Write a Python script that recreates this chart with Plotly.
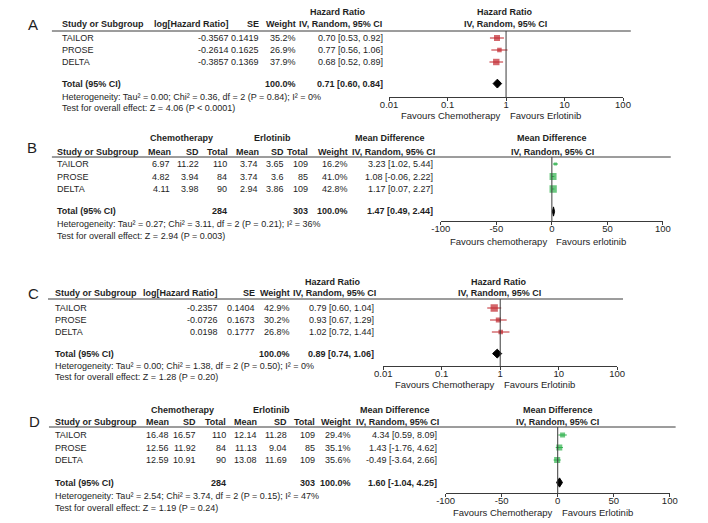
import math
import plotly.graph_objects as go

# ---------------- data ----------------
studies = ["TAILOR", "PROSE", "DELTA"]

# Panel A: hazard ratio (log scale)
a_loghr = [-0.3567, -0.2614, -0.3857]
a_se = [0.1419, 0.1625, 0.1369]
a_weight = [35.2, 26.9, 37.9]
a_est = [0.70, 0.77, 0.68]
a_lo = [0.53, 0.56, 0.52]
a_hi = [0.92, 1.06, 0.89]
a_total = [0.71, 0.60, 0.84]
a_het = "Heterogeneity: Tau² = 0.00; Chi² = 0.36, df = 2 (P = 0.84); I² = 0%"
a_test = "Test for overall effect: Z = 4.06 (P < 0.0001)"

# Panel B: mean difference
b_chemo_mean = [6.97, 4.82, 4.11]
b_chemo_sd = [11.22, 3.94, 3.98]
b_chemo_n = [110, 84, 90]
b_erl_mean = [3.74, 3.74, 2.94]
b_erl_sd = [3.65, 3.6, 3.86]
b_erl_n = [109, 85, 109]
b_weight = [16.2, 41.0, 42.8]
b_est = [3.23, 1.08, 1.17]
b_lo = [1.02, -0.06, 0.07]
b_hi = [5.44, 2.22, 2.27]
b_total = [1.47, 0.49, 2.44]
b_total_n = [284, 303]
b_het = "Heterogeneity: Tau² = 0.27; Chi² = 3.11, df = 2 (P = 0.21); I² = 36%"
b_test = "Test for overall effect: Z = 2.94 (P = 0.003)"

# Panel C: hazard ratio (log scale)
c_loghr = [-0.2357, -0.0726, 0.0198]
c_se = [0.1404, 0.1673, 0.1777]
c_weight = [42.9, 30.2, 26.8]
c_est = [0.79, 0.93, 1.02]
c_lo = [0.60, 0.67, 0.72]
c_hi = [1.04, 1.29, 1.44]
c_total = [0.89, 0.74, 1.06]
c_het = "Heterogeneity: Tau² = 0.00; Chi² = 1.38, df = 2 (P = 0.50); I² = 0%"
c_test = "Test for overall effect: Z = 1.28 (P = 0.20)"

# Panel D: mean difference
d_chemo_mean = [16.48, 12.56, 12.59]
d_chemo_sd = [16.57, 11.92, 10.91]
d_chemo_n = [110, 84, 90]
d_erl_mean = [12.14, 11.13, 13.08]
d_erl_sd = [11.28, 9.04, 11.69]
d_erl_n = [109, 85, 109]
d_weight = [29.4, 35.1, 35.6]
d_est = [4.34, 1.43, -0.49]
d_lo = [0.59, -1.76, -3.64]
d_hi = [8.09, 4.62, 2.66]
d_total = [1.60, -1.04, 4.25]
d_total_n = [284, 303]
d_het = "Heterogeneity: Tau² = 2.54; Chi² = 3.74, df = 2 (P = 0.15); I² = 47%"
d_test = "Test for overall effect: Z = 1.19 (P = 0.24)"

hr_ticks = [0.01, 0.1, 1, 10, 100]
hr_ticktext = ["0.01", "0.1", "1", "10", "100"]
md_ticks = [-100, -50, 0, 50, 100]
md_ticktext = ["-100", "-50", "0", "50", "100"]
hr_null = 1
md_null = 0

# ---------------- style / layout ----------------
W, H = 708, 523
FONT = "Liberation Sans, Arial, sans-serif"
TXT = "#1e1e1e"
RED = "#C0272D"
GREEN = "#2DB04B"
LINE = "#3a3a3a"
FS = 9
TOTAL_IDX = 3.8
DIAMOND_H = 0.37

fig = go.Figure()
ann = []
shapes = []


def px(x):
    return x / W


def py(y):
    return 1 - y / H


def text(x, y, s, anchor="left", bold=False, size=FS):
    ann.append(dict(x=px(x), y=py(y), xref="paper", yref="paper",
                    text=f"<b>{s}</b>" if bold else s, showarrow=False,
                    xanchor=anchor, yanchor="middle", borderpad=0, borderwidth=0,
                    font=dict(family=FONT, size=size, color=TXT)))


def hline(x0, x1, y):
    shapes.append(dict(type="line", xref="paper", yref="paper",
                       x0=px(x0), x1=px(x1), y0=py(y), y1=py(y),
                       line=dict(color=LINE, width=1)))


def fmt_ci(e, l, h):
    return f"{e:.2f} [{l:.2f}, {h:.2f}]"


def forest(n, est, lo, hi, weight, total, color, null, log, ticks, ticktext,
           axis_x0, axis_x1, axis_y, line_y, row0, pitch, fav_l, fav_r, fav_y):
    xa = "x" if n == 1 else f"x{n}"
    ya = "y" if n == 1 else f"y{n}"
    idx = list(range(len(est)))
    # CI lines
    xs, ys = [], []
    for i in idx:
        xs += [lo[i], hi[i], None]
        ys += [i, i, None]
    fig.add_trace(go.Scatter(x=xs, y=ys, mode="lines", xaxis=xa, yaxis=ya,
                             line=dict(color=color, width=1), hoverinfo="skip"))
    # squares
    fig.add_trace(go.Scatter(x=est, y=idx, mode="markers", xaxis=xa, yaxis=ya,
                             marker=dict(symbol="square", color=color,
                                         size=[max(3.2, 0.17 * w) for w in weight],
                                         line=dict(width=0))))
    # diamond
    t = TOTAL_IDX
    fig.add_trace(go.Scatter(x=[total[1], total[0], total[2], total[0], total[1]],
                             y=[t, t - DIAMOND_H, t, t + DIAMOND_H, t],
                             mode="lines", fill="toself", fillcolor="black",
                             line=dict(color="black", width=1), xaxis=xa, yaxis=ya))
    rng = [-2, 2] if log else [-100, 100]
    xkey = "xaxis" if n == 1 else f"xaxis{n}"
    ykey = "yaxis" if n == 1 else f"yaxis{n}"
    common = dict(type="log" if log else "linear", range=rng, tickvals=ticks,
                  showgrid=False, zeroline=False, tickwidth=1, tickcolor=LINE,
                  ticklen=3, fixedrange=True)
    fig.layout[xkey] = dict(domain=[px(axis_x0), px(axis_x1)], anchor=ya,
                            ticktext=ticktext, showline=True,
                            linecolor=LINE, linewidth=1, ticks="outside",
                            ticklabelstandoff=-4,
                            tickfont=dict(family=FONT, size=9.5, color=TXT), **common)
    # overlay axis: inside half of the crossing tick marks
    fig.layout[f"xaxis{n + 4}"] = dict(overlaying=xa, anchor=ya, ticks="inside",
                                       showticklabels=False, showline=False, **common)
    fig.layout[ykey] = dict(domain=[py(axis_y), py(line_y)], anchor=xa,
                            range=[(axis_y - row0) / pitch, (line_y - row0) / pitch],
                            visible=False, showgrid=False, zeroline=False, fixedrange=True)
    shapes.append(dict(type="line", xref=xa, yref=f"{ya} domain", x0=null, x1=null,
                       y0=0, y1=1, line=dict(color=LINE, width=1)))
    # annotation x on a log axis is given in log10 units
    ax = math.log10(null) if log else null
    ann.append(dict(x=ax, y=py(fav_y), xref=xa, yref="paper", text=fav_l,
                    showarrow=False, xanchor="right", yanchor="middle", xshift=-5,
                    borderpad=0, borderwidth=0,
                    font=dict(family=FONT, size=9.5, color=TXT)))
    ann.append(dict(x=ax, y=py(fav_y), xref=xa, yref="paper", text=fav_r,
                    showarrow=False, xanchor="left", yanchor="middle", xshift=4,
                    borderpad=0, borderwidth=0,
                    font=dict(family=FONT, size=9.5, color=TXT)))


# ---------------- Panel A ----------------
row0, pitch = 38, 12
tot_y = row0 + TOTAL_IDX * pitch
text(24, 24, "A", "center", size=15)
text(337, 12, "Hazard Ratio", "center", True)
text(508, 12, "Hazard Ratio", "center", True)
text(53, 24, "Study or Subgroup", "left", True)
text(225, 24, "log[Hazard Ratio]", "right", True)
text(255, 24, "SE", "right", True)
text(293, 24, "Weight", "right", True)
text(339, 24, "IV, Random, 95% CI", "center", True)
text(508, 24, "IV, Random, 95% CI", "center", True)
hline(43, 637, 31)
for i, s in enumerate(studies):
    y = row0 + i * pitch
    text(53, y, s)
    text(225, y, f"{a_loghr[i]:.4f}", "right")
    text(256, y, f"{a_se[i]:.4f}", "right")
    text(293, y, f"{a_weight[i]:.1f}%", "right")
    text(383, y, fmt_ci(a_est[i], a_lo[i], a_hi[i]), "right")
text(53, tot_y, "Total (95% CI)", "left", True)
text(293, tot_y, "100.0%", "right", True)
text(383, tot_y, fmt_ci(*a_total), "right", True)
text(53, tot_y + 13, a_het)
text(53, tot_y + 24, a_test)
forest(1, a_est, a_lo, a_hi, a_weight, a_total, RED, hr_null, True, hr_ticks, hr_ticktext,
       389, 629, 97, 31, row0, pitch, "Favours Chemotherapy", "Favours Erlotinib", 115)

# ---------------- Panel B ----------------
row0, pitch = 164, 12.5
tot_y = row0 + TOTAL_IDX * pitch
text(23, 148, "B", "center", size=15)
text(176, 138, "Chemotherapy", "center", True)
text(269, 138, "Erlotinib", "center", True)
text(390, 138, "Mean Difference", "center", True)
text(556, 138, "Mean Difference", "center", True)
text(48, 152, "Study or Subgroup", "left", True)
for xr, h in [(165, "Mean"), (194, "SD"), (224, "Total"), (255, "Mean"), (281, "SD"),
              (306, "Total"), (347, "Weight")]:
    text(xr, 152, h, "right", True)
text(394, 152, "IV, Random, 95% CI", "center", True)
text(557, 152, "IV, Random, 95% CI", "center", True)
hline(43, 678, 157)
for i, s in enumerate(studies):
    y = row0 + i * pitch
    text(48, y, s)
    text(164, y, f"{b_chemo_mean[i]:g}", "right")
    text(194, y, f"{b_chemo_sd[i]:g}", "right")
    text(223, y, f"{b_chemo_n[i]}", "right")
    text(254, y, f"{b_erl_mean[i]:g}", "right")
    text(281, y, f"{b_erl_sd[i]:g}", "right")
    text(306, y, f"{b_erl_n[i]}", "right")
    text(347, y, f"{b_weight[i]:.1f}%", "right")
    text(434, y, fmt_ci(b_est[i], b_lo[i], b_hi[i]), "right")
text(48, tot_y, "Total (95% CI)", "left", True)
text(223, tot_y, f"{b_total_n[0]}", "right", True)
text(306, tot_y, f"{b_total_n[1]}", "right", True)
text(347, tot_y, "100.0%", "right", True)
text(434, tot_y, fmt_ci(*b_total), "right", True)
text(48, tot_y + 13, b_het)
text(48, tot_y + 24.5, b_test)
forest(2, b_est, b_lo, b_hi, b_weight, b_total, GREEN, md_null, False, md_ticks, md_ticktext,
       442, 670, 221, 157, row0, pitch, "Favours chemotherapy", "Favours erlotinib", 241)

# ---------------- Panel C ----------------
row0, pitch = 308, 12
tot_y = row0 + TOTAL_IDX * pitch
text(24, 293, "C", "center", size=15)
text(331, 282, "Hazard Ratio", "center", True)
text(502, 282, "Hazard Ratio", "center", True)
text(46, 293, "Study or Subgroup", "left", True)
text(213, 293, "log[Hazard Ratio]", "right", True)
text(251, 293, "SE", "right", True)
text(287, 293, "Weight", "right", True)
text(333, 293, "IV, Random, 95% CI", "center", True)
text(502, 293, "IV, Random, 95% CI", "center", True)
hline(39, 629, 299)
for i, s in enumerate(studies):
    y = row0 + i * pitch
    text(46, y, s)
    text(213, y, f"{c_loghr[i]:.4f}", "right")
    text(251, y, f"{c_se[i]:.4f}", "right")
    text(287, y, f"{c_weight[i]:.1f}%", "right")
    text(374, y, fmt_ci(c_est[i], c_lo[i], c_hi[i]), "right")
text(46, tot_y, "Total (95% CI)", "left", True)
text(287, tot_y, "100.0%", "right", True)
text(374, tot_y, fmt_ci(*c_total), "right", True)
text(46, tot_y + 12.5, c_het)
text(46, tot_y + 23.5, c_test)
forest(3, c_est, c_lo, c_hi, c_weight, c_total, RED, hr_null, True, hr_ticks, hr_ticktext,
       383, 623, 366, 299, row0, pitch, "Favours Chemotherapy", "Favours Erlotinib", 384)

# ---------------- Panel D ----------------
row0, pitch = 435, 12.5
tot_y = row0 + TOTAL_IDX * pitch
text(25, 421, "D", "center", size=15)
text(177, 410, "Chemotherapy", "center", True)
text(268, 410, "Erlotinib", "center", True)
text(395, 410, "Mean Difference", "center", True)
text(562, 410, "Mean Difference", "center", True)
text(46, 422, "Study or Subgroup", "left", True)
for xr, h in [(163, "Mean"), (191, "SD"), (222, "Total"), (253, "Mean"), (284, "SD"),
              (313, "Total"), (350, "Weight")]:
    text(xr, 422, h, "right", True)
text(398, 422, "IV, Random, 95% CI", "center", True)
text(562, 422, "IV, Random, 95% CI", "center", True)
hline(40, 683, 427)
for i, s in enumerate(studies):
    y = row0 + i * pitch
    text(46, y, s)
    text(163, y, f"{d_chemo_mean[i]:g}", "right")
    text(191, y, f"{d_chemo_sd[i]:g}", "right")
    text(222, y, f"{d_chemo_n[i]}", "right")
    text(253, y, f"{d_erl_mean[i]:g}", "right")
    text(284, y, f"{d_erl_sd[i]:g}", "right")
    text(313, y, f"{d_erl_n[i]}", "right")
    text(350, y, f"{d_weight[i]:.1f}%", "right")
    text(438, y, fmt_ci(d_est[i], d_lo[i], d_hi[i]), "right")
text(46, tot_y, "Total (95% CI)", "left", True)
text(222, tot_y, f"{d_total_n[0]}", "right", True)
text(313, tot_y, f"{d_total_n[1]}", "right", True)
text(350, tot_y, "100.0%", "right", True)
text(438, tot_y, fmt_ci(*d_total), "right", True)
text(46, tot_y + 13.5, d_het)
text(46, tot_y + 25, d_test)
forest(4, d_est, d_lo, d_hi, d_weight, d_total, GREEN, md_null, False, md_ticks, md_ticktext,
       447, 677, 493, 427, row0, pitch, "Favours Chemotherapy", "Favours Erlotinib", 512)

fig.update_layout(width=W, height=H, autosize=False,
                  margin=dict(l=0, r=0, t=0, b=0, pad=0),
                  paper_bgcolor="white", plot_bgcolor="white",
                  showlegend=False, annotations=ann, shapes=shapes,
                  hovermode=False,
                  font=dict(family=FONT, size=FS, color=TXT))

fig.write_html("out.html", config={"displayModeBar": False, "staticPlot": True},
               post_script="document.body.style.margin='0';document.body.style.overflow='hidden';")
